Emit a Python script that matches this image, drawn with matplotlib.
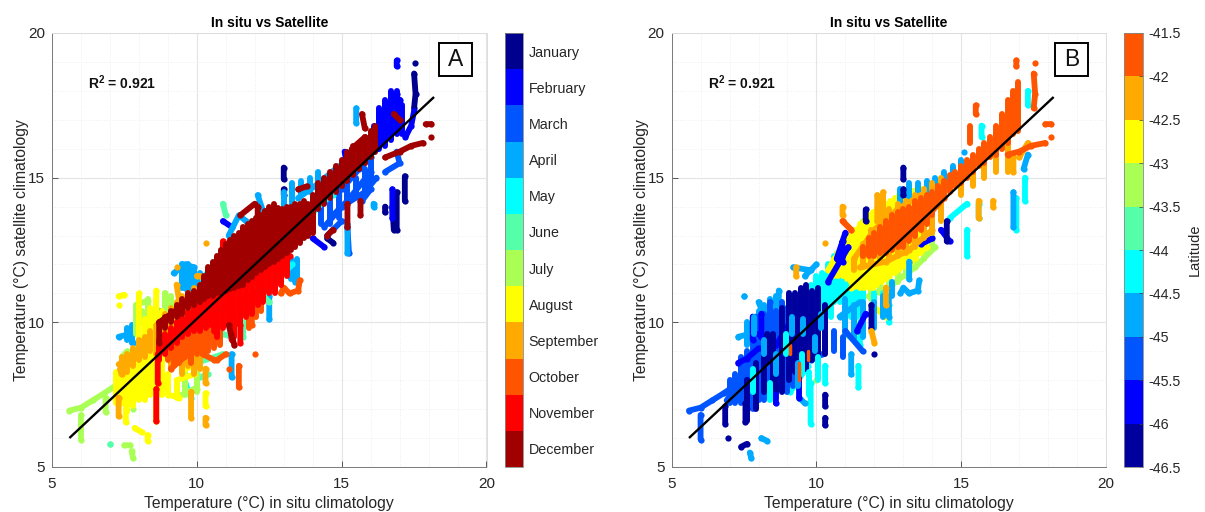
import numpy as np
import matplotlib
matplotlib.use("Agg")
import matplotlib.pyplot as plt
from matplotlib.colors import ListedColormap, BoundaryNorm
from matplotlib.cm import ScalarMappable
from matplotlib.patches import Rectangle

plt.rcParams['font.family'] = ['Liberation Sans', 'DejaVu Sans']
plt.rcParams['mathtext.default'] = 'regular'
n = float('nan')

months = ['January', 'February', 'March', 'April', 'May', 'June', 'July',
          'August', 'September', 'October', 'November', 'December']
month_colors = ['#00008F', '#0000FF', '#0055FF', '#00AAFF', '#00FFFF', '#55FFAA',
                '#AAFF55', '#FFFF00', '#FFAA00', '#FF5500', '#FF0000', '#A00000']
lat_ticks = [-46.5, -46, -45.5, -45, -44.5, -44, -43.5, -43, -42.5, -42, -41.5]
lat_labels = ['-46.5', '-46', '-45.5', '-45', '-44.5', '-44', '-43.5', '-43', '-42.5', '-42', '-41.5']
lat_colors = ['#00009F', '#0000FF', '#0055FF', '#00AAFF', '#00FFFF', '#55FFAA',
              '#AAFF55', '#FFFF00', '#FFAA00', '#FF5500']
fit_x = [5.63, 18.16]
fit_y = [6.03, 17.76]

# Panel A: point runs by month (nan separates runs)
jan_x = [17.53, n, 17.5, 17.55, 17.5, n, 17.18, 17.18, n, 16.75, 16.8, n, 16.9, 16.9, n, 13.0, 13.0, n, 13.0, 13.0, n, 14.5, 14.7, n, 16.5, 16.5]
jan_y = [18.95, n, 18.6, 17.9, 17.4, n, 15.05, 14.2, n, 14.0, 13.2, n, 14.5, 13.2, n, 15.35, 14.95, n, 14.6, 14.4, n, 12.9, 12.75, n, 14.0, 13.8]
feb_x = [16.0, 16.3, 16.5, 16.9, n, 16.2, 16.5, 16.8, 17.0, n, 16.3, 16.6, 16.9, n, 16.9, 16.9, n, 16.75, 16.75, n, 17.2, 17.4, 17.5, n, 15.1, 15.2, n, 10.9, 11.2, n, 14.0, 14.4]
feb_y = [16.0, 16.7, 17.3, 17.9, n, 16.0, 16.5, 17.0, 17.7, n, 16.8, 17.3, 17.0, n, 19.05, 18.85, n, 14.6, 13.6, n, 16.4, 16.8, 17.3, n, 15.9, 15.4, n, 13.5, 13.3, n, 12.9, 12.6]
mar_x = [14.4, 15.0, 15.8, 16.2, n, 14.6, 15.2, 16.0, n, 15.0, 15.6, 16.0, n, 15.7, 16.0, n, 14.5, 15.0, n, 15.2, 15.25, n, 16.5, 17.0, 16.9, n, 15.0, 15.4]
mar_y = [13.3, 14.0, 14.5, 15.0, n, 13.6, 14.2, 15.2, n, 14.6, 15.3, 15.7, n, 14.2, 14.6, n, 13.0, 13.5, n, 13.3, 12.4, n, 15.2, 15.5, 15.9, n, 15.3, 16.0]
apr_x = [7.3, 7.7, 7.8, n, 7.7, 8.0, 8.3, n, 8.4, 8.7, n, 9.5, 9.6, 10.0, n, 9.2, 9.6, 9.9, n, 12.1, 12.3, n, 13.5, 14.2, 14.9, n, 15.2, 15.2, n, 12.5, 12.5, n, 11.2, 11.2, n, 13.2, 13.4, n, 15.5, 15.5, n, 16.1, 16.1, n, 11.1, 11.45, 11.7]
apr_y = [9.5, 9.6, 9.3, n, 9.7, 10.0, 10.0, n, 10.4, 10.4, n, 12.0, 11.2, 11.4, n, 11.7, 12.0, 11.9, n, 14.4, 13.8, n, 14.3, 14.8, 15.4, n, 13.4, 12.4, n, 10.9, 10.1, n, 8.9, 8.1, n, 12.0, 11.4, n, 16.9, 17.4, n, 14.1, 14.0, n, 13.0, 13.7, 13.5]
may_x = [14.0, 14.4, 14.7, n, 9.6, 9.8, n, 12.8, 13.3, n, 10.2, 10.5]
may_y = [13.8, 14.2, 14.4, n, 7.9, 7.4, n, 11.5, 12.0, n, 11.5, 11.9]
jun_x = [10.0, 10.9, n, 10.9, 11.0, n, 10.9, 11.2, n, 7.0, 7.0, n, 11.6, 11.6, n, 10.1, 10.4, n, 12.3, 12.5]
jun_y = [8.6, 8.9, n, 14.1, 13.7, n, 9.6, 9.5, n, 5.8, 5.8, n, 10.0, 9.5, n, 8.1, 8.2, n, 10.9, 10.7]
jul_x = [5.6, 6.0, 6.4, 6.8, 7.1, n, 6.0, 6.0, n, 6.85, 6.85, n, 7.5, 7.7, n, 7.75, 7.8, n, 7.8, n, 7.9, 8.3, n, 8.9, 8.9, n, 9.4, 9.9, n, 10.0, 10.0, n, 7.4, 7.6, n, 9.1, 9.3]
jul_y = [6.95, 7.05, 7.3, 7.55, 7.75, n, 6.8, 5.95, n, 7.4, 6.9, n, 5.75, 5.75, n, 5.55, 5.3, n, 7.0, n, 10.6, 10.75, n, 11.0, 10.6, n, 7.45, 7.7, n, 8.2, 7.7, n, 8.8, 9.0, n, 8.6, 8.8]
aug_x = [7.2, 8.0, 8.7, n, 7.5, 8.1, 8.7, n, 7.7, 8.4, n, 8.0, 8.0, n, 7.3, 7.5, n, 7.3, n, 8.6, 8.6, n, 8.6, 8.6, n, 7.55, 7.55, n, 10.3, 10.3, n, 8.3, 8.3, n, 7.85, 8.1, n, 9.3, 9.9, n, 9.0, 9.4, n, 9.6, 9.9]
aug_y = [7.3, 8.3, 9.2, n, 7.2, 7.9, 8.6, n, 7.2, 8.0, n, 9.0, 11.0, n, 10.9, 10.95, n, 10.6, n, 11.1, 10.5, n, 7.5, 6.6, n, 7.2, 6.55, n, 7.55, 7.1, n, 6.1, 5.9, n, 6.35, 6.2, n, 8.0, 8.2, n, 7.5, 7.4, n, 8.4, 8.5]
sep_x = [7.3, 7.6, 8.0, 8.1, n, 7.35, 7.4, n, 8.7, 9.0, 9.3, n, 9.8, 9.8, n, 10.3, 10.3, n, 7.3, 7.3, n, 9.3, n, 10.3, n, 9.3, 9.4, n, 10.0, 10.1, n, 8.6, 8.6, n, 10.3, 10.3, n, 9.5, 9.8]
sep_y = [8.55, 8.7, 9.1, 9.35, n, 8.4, 8.2, n, 9.3, 9.6, 10.3, n, 7.6, 6.7, n, 8.4, 7.9, n, 7.4, 6.75, n, 11.9, n, 12.75, n, 11.3, 10.7, n, 11.6, 11.6, n, 9.9, 8.9, n, 6.7, 6.45, n, 9.4, 9.7]
oct_x = [12.9, 13.0, 13.2, 13.5, 13.55, n, 11.45, 11.45, n, 12.0, n, 10.7, 11.0, n, 11.1, n, 9.0, 9.5, 10.4, n, 9.2, 9.8, 10.5, n, 11.4, 11.9, 12.1, n, 11.9, 11.9, n, 9.1, 9.7, n, 10.2, 10.6]
oct_y = [11.0, 11.2, 11.0, 11.1, 11.45, n, 8.5, 7.75, n, 8.9, n, 8.7, 8.9, n, 8.4, n, 9.0, 9.6, 9.9, n, 8.9, 9.2, 9.5, n, 10.2, 10.6, 10.9, n, 10.6, 9.9, n, 8.4, 8.9, n, 8.9, 8.7]
nov_x = [8.8, 9.6, 10.4, 11.2, 12.1, 12.8, n, 9.5, 10.5, 11.5, 12.0, n, 8.65, 8.65, n, 8.6, 8.6, n, 11.5, 11.5, n, 10.9, 10.9, n, 12.8, 13.2, n, 10.6, 10.6, n, 11.1, 11.2]
nov_y = [9.0, 9.8, 10.6, 11.0, 11.6, 12.0, n, 9.8, 10.3, 10.7, 11.0, n, 8.9, 7.9, n, 7.7, 6.6, n, 9.9, 9.3, n, 12.8, 12.0, n, 11.8, 12.3, n, 10.5, 9.7, n, 10.2, 9.4]
dec_x = [8.7, 9.4, 10.0, n, 13.5, 13.8, n, 15.35, 15.8, n, 15.8, 15.7, n, 16.5, 17.0, 17.4, 17.8, n, 17.9, 18.1, n, 18.1, n, 16.8, 17.0, n, 15.65, 15.65, n, 15.2, 15.2, n, 11.5, 12.0, n, 12.1, 12.1, n, 14.5, 14.7, n, 8.7, 8.7, n, 11.1, 11.3]
dec_y = [10.0, 10.5, 11.0, n, 14.6, 14.7, n, 16.0, 16.4, n, 16.7, 17.2, n, 15.7, 15.9, 16.1, 16.2, n, 16.85, 16.85, n, 16.4, n, 17.2, 17.0, n, 14.2, 13.7, n, 14.1, 13.3, n, 13.7, 14.1, n, 14.0, 13.6, n, 13.0, 13.2, n, 10.0, 9.3, n, 9.9, 9.2]

# Panel A: vertical stacks of points in the dense parts (x, lowest y, highest y)
dec_col_x = [8.9, 9.1, 9.3, 9.5, 9.7, 9.9, 10.1, 10.25, 10.4, 10.55, 10.7, 10.85, 11, 11.15, 11.3, 11.45, 11.6, 11.75, 11.9, 12.05, 12.2, 12.35, 12.5, 12.65, 12.8, 12.95, 13.1, 13.25, 13.4, 13.55, 13.7, 13.85, 14.0, 14.2, 14.4, 14.6, 14.8, 15, 15.2, 15.4, 15.6, 15.8, 16, 16.15]
dec_col_hi = [10.2, 10.4, 10.6, 10.8, 11, 11.1, 11.3, 11.6, 11.9, 12.1, 12.3, 12.5, 12.7, 12.85, 13, 13.1, 13.3, 13.4, 13.5, 13.6, 13.7, 13.85, 14, 14.1, 13.95, 13.9, 14, 14, 14.1, 14.1, 14.2, 14.1, 14.4, 14.8, 15.0, 15.2, 15.4, 15.6, 15.9, 16.1, 16.2, 16.4, 16.6, 16.8]
dec_col_lo = [9.8, 10, 10.2, 10.3, 10.5, 10.6, 10.7, 10.8, 10.9, 10.9, 11, 11, 11.1, 11.15, 11.2, 11.25, 11.3, 11.45, 11.55, 11.7, 11.8, 11.9, 12, 12.1, 12.2, 12.3, 12.4, 12.5, 12.6, 12.75, 12.9, 13, 13.1, 13.9, 14.1, 14.3, 14.5, 14.7, 14.9, 15.1, 15.3, 15.5, 15.7, 15.9]
nov_col_x = [8.7, 8.9, 9.1, 9.3, 9.5, 9.7, 9.9, 10.1, 10.3, 10.5, 10.7, 10.9, 11.1, 11.3, 11.5, 11.7, 11.9, 12.1, 12.3, 12.5, 12.7, 12.9, 13.1]
nov_col_hi = [9.4, 9.6, 9.8, 10, 10.2, 10.4, 10.6, 10.8, 10.9, 11, 11.1, 11.2, 11.3, 11.4, 11.5, 11.6, 11.7, 11.9, 12, 12.2, 12.3, 12.5, 12.6]
nov_col_lo = [8.7, 8.9, 9.1, 9.3, 9.5, 9.6, 9.7, 9.7, 9.8, 9.9, 9.5, 9.8, 9.9, 9.5, 9.9, 10.2, 10.3, 10.6, 10.7, 11, 11, 11.3, 11.6]
oct_col_x = [9, 9.2, 9.4, 9.6, 9.8, 10, 10.2, 10.4, 10.6, 10.8, 11.2, 11.5, 11.8, 12.05, 12.2]
oct_col_hi = [9.5, 9.7, 9.9, 9.9, 10, 10, 10, 10, 10, 10, 10.6, 10.8, 10.9, 11, 11]
oct_col_lo = [8.7, 8.5, 8.6, 8.8, 8.6, 8.9, 8.9, 9.0, 9.1, 9.2, 9.9, 9.9, 9.8, 10.2, 10.4]
sep_col_x = [7.4, 7.6, 7.8, 8, 8.2, 8.4, 8.7, 8.9, 9.1, 9.3, 9.5, 9.7, 9.9, 10.1]
sep_col_hi = [8.8, 8.9, 9.1, 9.4, 9.5, 9.7, 10, 10.3, 10.5, 10.7, 10.9, 11, 11.2, 11.3]
sep_col_lo = [8.3, 8.3, 8.5, 8.7, 8.8, 9, 9.4, 9.5, 8.4, 8.7, 8.2, 8.5, 8.2, 8.4]
aug_col_x = [7.2, 7.4, 7.6, 7.8, 8, 8.2, 8.4, 8.6, 8.8, 9.0, 9.3]
aug_col_hi = [8.3, 8.5, 8.7, 9, 9.5, 10.1, 10.5, 10.8, 10.4, 8.2, 8.0]
aug_col_lo = [7.2, 7.2, 6.9, 7.1, 7.3, 7.3, 7.5, 6.6, 7.5, 7.6, 7.4]
jul_col_x = [7.9, 8.1, 8.3, 8.9, 9.1, 9.6, 10]
jul_col_hi = [10.6, 10.4, 10.8, 11, 10.9, 8.3, 8.2]
jul_col_lo = [9.6, 10, 10, 10.4, 10.4, 7.5, 7.6]
apr_col_x = [7.6, 7.75, 8.35, 9.5, 9.7, 9.9, 10.1, 13, 13.3, 13.6, 13.9, 14.2, 13.25, 13.45]
apr_col_hi = [9.8, 9.9, 10.4, 12, 12, 11.8, 11.7, 14.5, 14.8, 14.9, 15, 15.2, 12.2, 12.2]
apr_col_lo = [9.4, 9.3, 9.9, 11.2, 11.1, 11.2, 11.2, 13.9, 14.1, 14.4, 14.5, 14.6, 11.5, 11.5]
mar_col_x = [14.3, 14.6, 14.9, 15.2, 15.5, 15.8, 16.0]
mar_col_hi = [14.0, 14.3, 14.6, 14.8, 15, 15.3, 15.7]
mar_col_lo = [13.4, 13.4, 13.6, 14, 14.4, 14.5, 14.8]
feb_col_x = [16.1, 16.3, 16.5, 16.7, 16.9, 17.1]
feb_col_hi = [16.8, 17.4, 17.7, 18, 18, 17.5]
feb_col_lo = [15.9, 16, 16.1, 16.3, 16.5, 16.5]

# Panel B: point runs by latitude band
b46_x = [8.3, 8.3, n, 13.0, 13.0, n, 13.0, 13.0, n, 11.7, 11.7, n, 7.4, 7.6, n, 6.95, n, 10.3, 10.3, n, 10.3, 10.3, n, 12.0, n, 6.85, 6.85, n, 7.55, 7.55, n, 14.5, 14.5, n, 11.9, 11.9, n, 8.6, 8.6]
b46_y = [9.6, 8.7, n, 15.35, 14.95, n, 14.6, 14.4, n, 13.9, 13.5, n, 5.7, 5.8, n, 6.0, n, 7.5, 7.1, n, 6.7, 6.45, n, 8.9, n, 7.1, 6.5, n, 7.2, 6.55, n, 13.5, 12.8, n, 10.6, 9.8, n, 8.4, 7.7]
b45h_x = [7.3, 7.6, 8.0, n, 8.0, 8.6, 9.4, n, 10.9, 10.9, n, 10.7, 11.0, n, 10.4, 11.1, n, 8.6, 8.6, n, 9.4, 9.4, n, 8.1, 8.1, n, 11.4, 11.7, n, 13.6, 14.0, n, 14.3, 14.6, n, 7.6, 7.6, n, 7.8, 7.8]
b45h_y = [8.6, 8.75, 9.1, n, 9.6, 9.2, 10.5, n, 12.8, 12.1, n, 12.2, 13.1, n, 11.4, 12.6, n, 8.2, 7.2, n, 8.6, 7.4, n, 10.3, 9.5, n, 9.7, 10.3, n, 12.7, 12.9, n, 13.2, 12.8, n, 8.0, 7.0, n, 10.2, 9.4]
b45_x = [5.6, 6.0, 6.4, 6.8, 7.1, n, 6.0, 6.0, n, 7.9, 7.9, n, 8.4, 8.4, n, 6.9, 7.5, n, 9.2, 9.2, n, 8.2, 8.8, n, 7.8, 8.1, n, 9.8, 10.2, n, 11.0, 11.6]
b45_y = [6.95, 7.05, 7.3, 7.55, 7.75, n, 6.8, 5.95, n, 10.2, 8.7, n, 10.7, 9.2, n, 7.3, 8.1, n, 10.3, 8.3, n, 10.0, 9.9, n, 7.1, 7.8, n, 8.7, 8.9, n, 9.7, 9.0]
b44h_x = [7.3, 7.7, 7.8, n, 7.5, 7.5, n, 8.0, 8.3, n, 8.7, 8.7, n, 9.2, 9.8, n, 9.6, 10.0, n, 12.9, 13.0, 13.2, 13.5, 13.55, n, 16.8, 16.8, n, 16.9, 16.8, n, 15.1, n, 8.1, 8.3, n, 7.7, 7.75, n, 11.2, 11.2, n, 12.5, 12.5, n, 17.15, 17.3, n, 10.8, 11.5, n, 13.2, 13.2, n, 9.4, 9.6]
b44h_y = [9.5, 9.6, 9.3, n, 10.9, 10.9, n, 10.7, 10.0, n, 11.1, 10.5, n, 11.9, 11.8, n, 11.6, 12.0, n, 11.0, 11.2, 11.0, 11.1, 11.45, n, 14.5, 13.3, n, 18.0, 17.5, n, 15.9, n, 6.0, 5.9, n, 5.5, 5.3, n, 8.9, 8.2, n, 10.9, 10.2, n, 15.3, 15.8, n, 10.2, 10.7, n, 12.1, 11.5, n, 7.4, 7.2]
b44_x = [11.45, 11.45, n, 9.8, 9.8, n, 10.3, 10.3, n, 15.2, 15.2, n, 17.2, 17.2, n, 16.9, 16.9, n, 11.5, 11.5, n, 15.7, 15.7, n, 17.3, 17.3, n, 12.5, 12.5, n, 14.6, 15.2, n, 15.6, 15.6, n, 9.1, 9.7]
b44_y = [8.5, 7.75, n, 7.9, 6.5, n, 8.5, 7.9, n, 13.2, 12.3, n, 15.0, 14.2, n, 14.3, 13.2, n, 10.0, 9.2, n, 16.8, 16.4, n, 18.0, 17.5, n, 10.6, 10.0, n, 13.6, 14.1, n, 14.1, 13.6, n, 7.6, 8.5]
b43h_x = [10.3, 10.6, n, 11.0, 11.3]
b43h_y = [11.4, 11.7, n, 9.6, 9.4]
b43_x = [10.0, n, 11.1, 11.5, n, 11.8, 12.6, 13.4, 14.1, n, 10.4, 10.7, 11.3]
b43_y = [8.0, n, 11.3, 11.7, n, 10.9, 11.3, 11.9, 12.6, n, 11.4, 12.2, 13.2]
b42h_x = [11.3, 11.3, n, 11.9, 12.4, n, 10.4, 11.0, 11.8, 12.8, 13.5, n, 11.2, 12.0, 13.0, 13.8]
b42h_y = [10.0, 9.6, n, 10.6, 10.2, n, 11.8, 12.8, 13.6, 14.3, 14.6, n, 11.2, 11.4, 12.0, 12.6]
b42_x = [10.3, n, 9.3, 9.3, n, 10.9, 10.9, n, 12.1, 12.1, n, 12.3, 12.3, n, 12.4, 12.4, n, 15.6, 15.6, n, 16.1, 16.1, n, 16.8, 16.8, n, 11.9, 12.0, n, 10.9, 11.2, n, 17.0, 17.3, n, 11.3, 12.0, 12.8, 13.6, n, 11.5, 12.4, 13.2, 14.0]
b42_y = [12.75, n, 11.9, 11.6, n, 14.0, 13.7, n, 14.4, 13.5, n, 14.5, 13.6, n, 11.2, 10.6, n, 14.2, 13.6, n, 14.2, 14.0, n, 15.7, 15.2, n, 9.7, 9.3, n, 13.5, 13.2, n, 15.7, 16.2, n, 12.2, 13.2, 13.9, 14.4, n, 11.9, 12.1, 12.5, 13.2]
b41h_x = [16.9, 16.9, n, 17.53, n, 17.5, 17.55, 17.5, n, 15.5, 15.5, n, 16.6, 17.0, 17.4, 17.9, n, 17.9, 18.1, n, 18.1, n, 13.5, 14.4, n, 10.9, 11.2]
b41h_y = [19.05, 18.85, n, 18.95, n, 18.6, 17.9, 17.4, n, 17.5, 17.2, n, 15.8, 15.9, 16.1, 16.2, n, 16.85, 16.85, n, 16.4, n, 13.3, 14.3, n, 13.5, 13.2]

# Panel B: vertical stacks in the dense parts
b41h_col_x = [11.6, 11.8, 12, 12.2, 12.4, 12.6, 12.8, 13, 13.2, 13.4, 13.6, 13.8, 14, 14.2, 14.4, 14.6, 14.8, 15, 15.2, 15.4, 15.6, 15.8, 16, 16.2, 16.4, 16.6, 16.8, 16.95, 15.3]
b41h_col_hi = [12.6, 12.9, 13.1, 13.3, 13.5, 13.7, 13.8, 13.9, 14, 14.2, 14.3, 14.4, 14.5, 14.7, 14.9, 15.1, 15.2, 15.4, 15.6, 15.8, 16, 16.2, 16.4, 16.8, 17.2, 17.7, 18, 18.3, 16.8]
b41h_col_lo = [12.3, 12.3, 12.3, 12.4, 12.4, 12.5, 12.6, 12.6, 12.8, 13, 13.2, 13.4, 13.7, 14.1, 14.3, 14.5, 14.7, 14.8, 15, 15.2, 15.4, 15.5, 15.7, 15.8, 16, 16.2, 16.5, 16.6, 16.2]
b42_col_x = [11.3, 11.6, 11.9, 12.2, 12.5, 12.8, 13.1, 13.4, 13.7, 14, 14.3, 15, 15.4, 15.8, 16.2, 16.6]
b42_col_hi = [12.2, 12.7, 13.2, 13.6, 13.9, 14.1, 14.2, 14.4, 14.6, 14.8, 15, 15.2, 15.5, 15.7, 16, 16.4]
b42_col_lo = [11.8, 11.9, 12, 12.1, 12.2, 12.3, 12.4, 12.6, 12.9, 13.1, 13.5, 14.4, 14.7, 15, 15.2, 15.2]
b42h_col_x = [10.6, 10.9, 11.2, 11.5, 11.8, 12.1, 12.4, 12.7, 13, 13.3, 13.6, 10.75, 11.05, 11.35, 11.65, 11.95, 12.25, 12.55, 12.85, 13.15, 13.45]
b42h_col_hi = [12.2, 12.6, 13, 13.4, 13.7, 13.9, 14.1, 14.3, 14.5, 14.5, 14.6, 12.4, 12.8, 13.2, 13.5, 13.8, 14, 14.2, 14.4, 14.5, 14.5]
b42h_col_lo = [11.6, 11.6, 11.4, 11.2, 11.2, 11.3, 11.5, 11.7, 11.9, 12.1, 12.4, 11.6, 11.5, 11.3, 11.2, 11.2, 11.4, 11.6, 11.8, 12, 12.2]
b43_col_x = [10.4, 10.7, 11, 11.3, 11.6, 11.9, 12.2, 12.5, 12.8, 13.1, 13.4, 13.7, 14]
b43_col_hi = [11.8, 12.4, 12.9, 13.2, 13.5, 13.6, 13.7, 13.8, 13, 13, 13.2, 13.3, 13.5]
b43_col_lo = [11.2, 11.3, 11, 10.9, 10.9, 10.8, 11, 11.2, 11.4, 11.6, 11.9, 12.2, 12.5]
b44_col_x = [9.4, 9.6, 9.8, 10, 10.2, 10.4, 10.6, 10.8, 11, 11.2, 11.4, 11.6, 12, 12.3]
b44_col_hi = [10.6, 11, 11.3, 11.6, 11.7, 12, 12.3, 11.9, 12, 12, 11.5, 11.2, 11, 11]
b44_col_lo = [9.6, 9.8, 10, 10.3, 10.5, 10.6, 10.7, 10.7, 10.6, 10.2, 10.2, 10.3, 10.2, 10.4]
b44h_col_x = [7.6, 7.8, 8.0, 8.2, 8.4, 8.6, 11.0, 11.3, 11.6, 12.0, 12.3, 12.6, 12.9, 13.2, 13.5, 13.8, 14.1, 14.4, 14.7, 15.0]
b44h_col_hi = [10, 10.2, 10.4, 10.6, 10.8, 10.9, 10.8, 10.6, 10.7, 10.7, 10.9, 11.4, 14.6, 14.8, 14.8, 14.9, 15, 15.2, 15.4, 15.6]
b44h_col_lo = [9.2, 9.4, 9.6, 9.7, 9.9, 10, 9.6, 9.4, 9.5, 9.8, 10.2, 10.9, 14.1, 14.3, 14.4, 14.5, 14.6, 14.8, 15.0, 15.2]
b45_col_x = [7, 7.2, 7.4, 7.6, 7.8, 8, 8.2, 8.4, 8.6, 8.8, 9, 9.2, 10.6, 10.9]
b45_col_hi = [8, 8.2, 8.8, 9, 9.3, 10, 10.3, 10.6, 10.4, 10.7, 10.5, 10.3, 9.7, 9.5]
b45_col_lo = [7.2, 7.2, 7.2, 7, 7, 7.3, 7.3, 7.5, 7.4, 7.8, 7.6, 7.8, 9.0, 8.8]
b46_col_x = [7.6, 7.9, 8.2, 8.5, 8.8, 9.05, 9.25, 9.45, 9.65, 9.85, 10.05, 10.3]
b46_col_hi = [8, 8.6, 9.2, 9.6, 10.5, 11, 11, 11.2, 11.3, 11.1, 11.2, 10.6]
b46_col_lo = [6.6, 7, 7.6, 8, 7.6, 8, 8.3, 8.2, 8.4, 8.7, 8.5, 8.9]
b44_top_x = [7.8, 8.4, 8.95, 9.5, 9.75, 10.05, 10.5]
b44_top_hi = [8.4, 7.9, 9.6, 8.9, 8.3, 8.8, 11.0]
b44_top_lo = [7.6, 7.3, 8.9, 8.2, 7.5, 8.0, 10.2]
b44h_top_x = [8.6, 9.15, 9.55, 10.15, 7.85, 8.2, 9.35, 9.95]
b44h_top_hi = [8.9, 10.2, 10.1, 10.3, 10.2, 9.4, 8.6, 9.5]
b44h_top_lo = [8.2, 9.6, 9.6, 9.8, 9.6, 8.9, 7.8, 9.0]
b42_top_x = [9.1, 9.4, 9.7]
b42_top_hi = [9.2, 8.6, 9.0]
b42_top_lo = [8.9, 8.0, 8.7]

a_series = [(jan_x, jan_y, None, None, None), (feb_x, feb_y, feb_col_x, feb_col_lo, feb_col_hi),
            (mar_x, mar_y, mar_col_x, mar_col_lo, mar_col_hi), (apr_x, apr_y, apr_col_x, apr_col_lo, apr_col_hi),
            (may_x, may_y, None, None, None), (jun_x, jun_y, None, None, None),
            (jul_x, jul_y, jul_col_x, jul_col_lo, jul_col_hi), (aug_x, aug_y, aug_col_x, aug_col_lo, aug_col_hi),
            (sep_x, sep_y, sep_col_x, sep_col_lo, sep_col_hi), (oct_x, oct_y, oct_col_x, oct_col_lo, oct_col_hi),
            (nov_x, nov_y, nov_col_x, nov_col_lo, nov_col_hi), (dec_x, dec_y, dec_col_x, dec_col_lo, dec_col_hi)]
b_series = [(b43h_x, b43h_y, None, None, None, 5), (b43_x, b43_y, b43_col_x, b43_col_lo, b43_col_hi, 6),
            (b44_x, b44_y, b44_col_x, b44_col_lo, b44_col_hi, 4), (b42h_x, b42h_y, b42h_col_x, b42h_col_lo, b42h_col_hi, 7),
            (b44h_x, b44h_y, b44h_col_x, b44h_col_lo, b44h_col_hi, 3), (b45_x, b45_y, b45_col_x, b45_col_lo, b45_col_hi, 2),
            (b45h_x, b45h_y, None, None, None, 1), (b46_x, b46_y, b46_col_x, b46_col_lo, b46_col_hi, 0),
            (b42_x, b42_y, b42_col_x, b42_col_lo, b42_col_hi, 8), (b41h_x, b41h_y, b41h_col_x, b41h_col_lo, b41h_col_hi, 9)]

W, H = 1205, 512
GRAY = '#262626'


def panel(x0, letter, box_left):
    ax = fig.add_axes([x0 / W, 1 - 467 / H, 434.5 / W, 434 / H])
    ax.set_xlim(5, 20)
    ax.set_ylim(5, 20)
    ax.set_xticks([5, 10, 15, 20])
    ax.set_yticks([5, 10, 15, 20])
    ax.set_xticks(range(5, 21), minor=True)
    ax.set_yticks(range(5, 21), minor=True)
    ax.grid(True, which='major', color='#e4e4e4', lw=0.8)
    ax.grid(True, which='minor', color='#eeeeee', lw=0.7, ls=':')
    ax.set_axisbelow(True)
    ax.tick_params(which='major', direction='in', length=4, width=0.6, color='#404040',
                   labelsize=11, labelcolor=GRAY, pad=5, top=False, right=False)
    ax.tick_params(axis='x', which='major', pad=7)
    ax.tick_params(which='minor', length=0)
    for s in ['left', 'bottom']:
        ax.spines[s].set_color('#7a7a7a')
        ax.spines[s].set_linewidth(0.7)
    for s in ['top', 'right']:
        ax.spines[s].set_color('#dddddd')
        ax.spines[s].set_linewidth(0.7)
    ax.set_xlabel('Temperature (°C) in situ climatology', fontsize=11.3, color=GRAY, labelpad=4)
    ax.set_ylabel('Temperature (°C) satellite climatology', fontsize=11.3, color=GRAY, labelpad=-1)
    ax.set_title('In situ vs Satellite', fontsize=10, fontweight='bold', color='black', pad=4)
    ax.text(36 / 434.5, 1 - 50 / 434, 'R$^2$ = 0.921', transform=ax.transAxes, fontsize=10,
            fontweight='bold', va='center', ha='left', color='#111111')
    ax.add_patch(Rectangle((box_left / 434.5, 1 - 43 / 434), 33 / 434.5, 33 / 434, transform=ax.transAxes,
                           fc='white', ec='black', lw=1.4, zorder=8))
    ax.text((box_left + 16.5) / 434.5, 1 - 27 / 434, letter, transform=ax.transAxes, fontsize=16.5,
            ha='center', va='center', zorder=9, color='#111111')
    return ax


def draw(ax, x, y, cx, lo, hi, color, z):
    if cx is not None:
        ax.vlines(cx, lo, hi, color=color, lw=4.3, zorder=z, capstyle='round')
    ax.plot(x, y, '-o', color=color, ms=4.5, mew=0, lw=4.2, zorder=z,
            solid_capstyle='round', solid_joinstyle='round')


fig = plt.figure(figsize=(W / 100, H / 100), dpi=100)
ax_a = panel(52, 'A', 387)
ax_b = panel(671.6, 'B', 383.4)

for i, (x, y, cx, lo, hi) in enumerate(a_series):
    draw(ax_a, x, y, cx, lo, hi, month_colors[i], 3 + i * 0.1)
for i, (x, y, cx, lo, hi, c) in enumerate(b_series):
    draw(ax_b, x, y, cx, lo, hi, lat_colors[c], 3 + i * 0.1)
ax_b.vlines(b44_top_x, b44_top_lo, b44_top_hi, color=lat_colors[4], lw=4.3, zorder=4.1, capstyle='round')
ax_b.vlines(b44h_top_x, b44h_top_lo, b44h_top_hi, color=lat_colors[3], lw=4.3, zorder=4.1, capstyle='round')
ax_b.vlines(b42_top_x, b42_top_lo, b42_top_hi, color=lat_colors[9], lw=2.5, zorder=4.2, capstyle='round')
for ax in (ax_a, ax_b):
    ax.plot(fit_x, fit_y, color='black', lw=1.7, zorder=6)

# colour bars
cax_a = fig.add_axes([505 / W, 1 - 467 / H, 18 / W, 434 / H])
cm_a = ListedColormap(month_colors[::-1])
norm_a = BoundaryNorm(np.arange(13), 12)
cb_a = fig.colorbar(ScalarMappable(norm=norm_a, cmap=cm_a), cax=cax_a, spacing='proportional')
cb_a.set_ticks(np.arange(12) + 0.5)
cb_a.set_ticklabels(months[::-1])
cb_a.ax.tick_params(length=0, labelsize=10.3, labelcolor=GRAY, pad=4, which='both')
cb_a.ax.minorticks_off()
cb_a.outline.set_edgecolor('#888888')
cb_a.outline.set_linewidth(0.6)

cax_b = fig.add_axes([1124 / W, 1 - 467 / H, 18.5 / W, 434 / H])
cm_b = ListedColormap(lat_colors)
norm_b = BoundaryNorm(lat_ticks, 10)
cb_b = fig.colorbar(ScalarMappable(norm=norm_b, cmap=cm_b), cax=cax_b, spacing='proportional')
cb_b.set_ticks(lat_ticks)
cb_b.set_ticklabels(lat_labels)
cb_b.ax.tick_params(direction='in', length=3, width=0.5, color='#404040', labelsize=10.3, labelcolor=GRAY, pad=4)
cb_b.ax.minorticks_off()
cb_b.outline.set_edgecolor('#888888')
cb_b.outline.set_linewidth(0.6)
cb_b.set_label('Latitude', fontsize=10.5, color=GRAY, labelpad=5)

fig.savefig('out.png', dpi=100)
